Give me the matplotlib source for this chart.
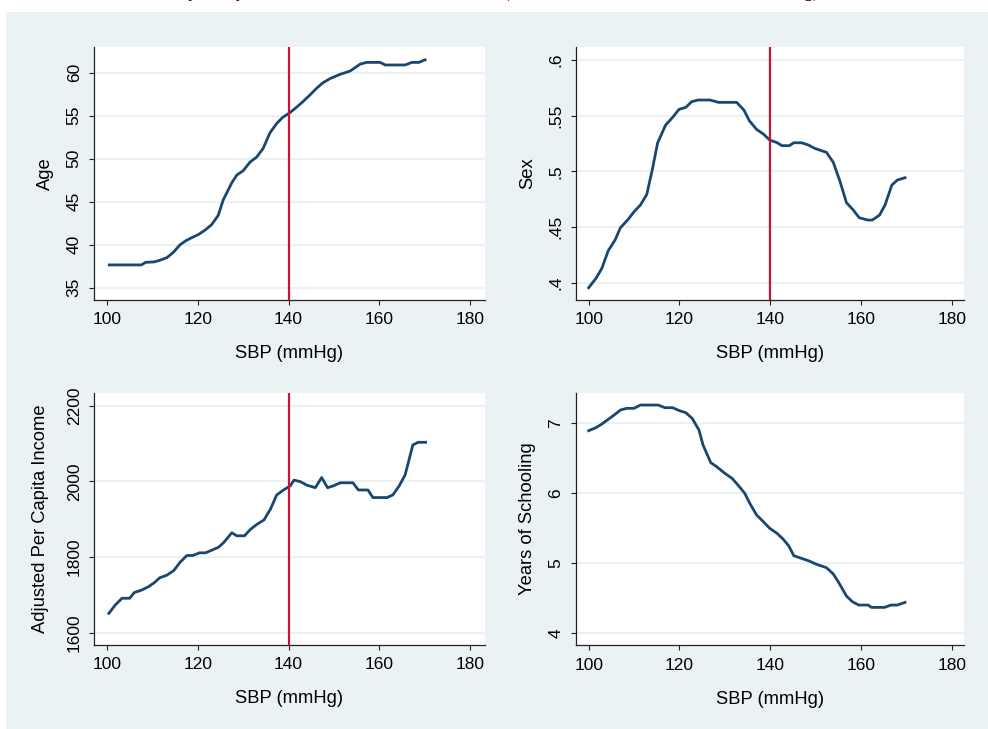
import matplotlib
matplotlib.use("Agg")
import matplotlib.pyplot as plt
from matplotlib.patches import Rectangle

# lowess-smoothed covariates against systolic blood pressure
sbp_age = [100.5, 107.6, 108.5, 110.4, 111.7, 113.2, 114.6, 116.1, 117.5, 118.6, 120.2, 121.6,
           123.0, 124.5, 125.6, 127.5, 128.6, 130.0, 131.5, 133.0, 134.4, 135.9, 137.4, 138.7,
           140.3, 141.8, 143.1, 144.7, 146.2, 147.5, 149.1, 151.3, 153.6, 155.8, 157.2, 160.2,
           161.3, 165.7, 167.2, 168.7, 170.1]
age = [37.65, 37.65, 37.95, 38.0, 38.2, 38.5, 39.1, 40.0, 40.5, 40.8, 41.2, 41.7,
       42.3, 43.4, 45.2, 47.2, 48.1, 48.6, 49.6, 50.2, 51.2, 53.0, 54.1, 54.8,
       55.35, 56.0, 56.6, 57.4, 58.2, 58.8, 59.3, 59.8, 60.2, 61.0, 61.2, 61.2,
       60.9, 60.9, 61.2, 61.2, 61.5]

sbp_sex = [100.0, 101.6, 102.9, 104.3, 105.8, 107.0, 108.7, 110.0, 111.4, 112.8, 114.0, 115.2,
           116.95, 118.5, 119.9, 121.4, 122.7, 124.1, 126.7, 128.6, 132.6, 134.2, 135.4, 137.0,
           138.5, 139.9, 141.4, 142.6, 144.2, 145.2, 146.9, 148.4, 149.8, 152.4, 153.9, 155.4,
           156.8, 158.3, 159.6, 161.5, 162.5, 164.1, 165.3, 166.8, 168.0, 169.7]
sex = [0.3955, 0.4039, 0.4129, 0.4287, 0.4383, 0.4494, 0.4569, 0.4638, 0.4698, 0.4793, 0.5012, 0.5257,
       0.5416, 0.5485, 0.5557, 0.5575, 0.5626, 0.5641, 0.5641, 0.5620, 0.5620, 0.5551, 0.5455, 0.5377,
       0.5335, 0.5281, 0.5260, 0.5231, 0.5231, 0.5257, 0.5257, 0.5237, 0.5207, 0.5171, 0.5081, 0.4907,
       0.4719, 0.4653, 0.4584, 0.4563, 0.4563, 0.4608, 0.4698, 0.4877, 0.4922, 0.4943]

sbp_inc = [100.4, 101.8, 103.3, 105.0, 106.0, 107.7, 109.2, 110.4, 111.6, 113.2, 114.7, 116.1,
           117.6, 118.9, 120.4, 121.7, 123.1, 124.6, 125.7, 127.5, 128.6, 130.3, 131.6, 133.0,
           134.6, 136.0, 137.4, 138.9, 140.4, 141.2, 142.6, 144.0, 145.9, 147.3, 148.6, 149.9,
           151.4, 154.2, 155.4, 157.5, 158.6, 161.7, 163.0, 164.4, 165.7, 167.4, 168.6, 170.2]
income = [1651, 1673, 1691, 1691, 1706, 1713, 1722, 1732, 1745, 1752, 1764, 1786,
          1804, 1804, 1811, 1811, 1818, 1826, 1838, 1864, 1856, 1856, 1873, 1886,
          1898, 1926, 1964, 1977, 1988, 2003, 1999, 1990, 1983, 2010, 1983, 1988,
          1996, 1996, 1977, 1977, 1957, 1957, 1964, 1988, 2017, 2096, 2103, 2103]

sbp_sch = [100.0, 101.6, 102.9, 104.3, 105.8, 107.0, 108.4, 110.0, 111.4, 115.3, 116.8, 118.5,
           120.0, 121.4, 122.8, 124.3, 125.2, 126.9, 128.2, 130.0, 131.6, 132.9, 134.4, 135.5,
           137.0, 138.5, 139.9, 141.5, 142.9, 144.1, 145.2, 146.9, 148.4, 150.2, 152.4, 153.9,
           155.2, 156.8, 158.1, 159.5, 161.6, 162.3, 165.2, 166.6, 168.0, 169.7]
school = [6.886, 6.929, 6.981, 7.048, 7.119, 7.181, 7.205, 7.205, 7.252, 7.252, 7.214, 7.214,
          7.172, 7.143, 7.062, 6.896, 6.682, 6.430, 6.373, 6.278, 6.206, 6.111, 5.992, 5.850,
          5.683, 5.588, 5.493, 5.422, 5.336, 5.241, 5.103, 5.065, 5.032, 4.980, 4.932, 4.842,
          4.709, 4.528, 4.447, 4.399, 4.399, 4.366, 4.366, 4.399, 4.399, 4.437]

xticks = [100, 120, 140, 160, 180]
cutoff = 140

NAVY = "#1A476F"
RED = "#CC1236"
BG = "#EAF2F3"

plt.rcParams["font.family"] = ["Liberation Sans", "DejaVu Sans"]

W, H = 988, 729
fig = plt.figure(figsize=(W / 100, H / 100), dpi=100)
fig.patch.set_facecolor("white")
fig.patches.append(Rectangle((6 / W, 0), 1, (H - 12) / H, transform=fig.transFigure,
                             facecolor=BG, edgecolor="none", zorder=-10))

# caption above the graph; only its descenders fall inside the canvas
fig.text(73 / W, 1 + 3.5 / H,
         "Covariates Analyzed by SBP Relative to the 140 Threshold (Lowess Smoothed Mean Values in mmHg)",
         family=["Liberation Serif", "DejaVu Serif"], fontsize=13, ha="left", va="baseline")


def panel(rect, x, y, ylabel, ylim, yticks, yticklabels, vline):
    ax = fig.add_axes([rect[0] / W, 1 - rect[3] / H, (rect[2] - rect[0]) / W, (rect[3] - rect[1]) / H])
    ax.set_facecolor("white")
    for ty in yticks:
        ax.axhline(ty, color=BG, lw=1.6, zorder=1)
    ax.plot(x, y, color=NAVY, lw=2.0, zorder=3)
    if vline:
        ax.axvline(cutoff, color=RED, lw=1.6, zorder=4)
    ax.set_ylim(*ylim)
    ax.set_yticks(yticks)
    ax.set_yticklabels(yticklabels, rotation=90, va="center")
    ax.set_xticks(xticks)
    ax.set_xticklabels([str(t) for t in xticks])
    ax.set_xlabel("SBP (mmHg)", fontsize=13.2, labelpad=13)
    ax.set_ylabel(ylabel, fontsize=13.2, labelpad=9)
    for s in ["top", "right"]:
        ax.spines[s].set_visible(False)
    for s in ["left", "bottom"]:
        ax.spines[s].set_color("#222222")
        ax.spines[s].set_linewidth(0.9)
    ax.tick_params(axis="both", direction="out", length=3.8, width=0.8, color="#222222",
                   labelsize=12.5, pad=5)
    return ax


ax1 = panel((94, 47, 485, 300), sbp_age, age, "Age", (33.57, 62.99),
            [35, 40, 45, 50, 55, 60], ["35", "40", "45", "50", "55", "60"], True)
ax1.set_xlim(97.13, 183.3)

ax2 = panel((575.7, 47, 964, 300), sbp_sex, sex, "Sex", (0.3845, 0.6117),
            [0.4, 0.45, 0.5, 0.55, 0.6], [".4", ".45", ".5", ".55", ".6"], True)
ax2.set_xlim(97.14, 182.7)

ax3 = panel((94, 392.7, 485, 645), sbp_inc, income, "Adjusted Per Capita Income", (1567.5, 2234),
            [1600, 1800, 2000, 2200], ["1600", "1800", "2000", "2200"], True)
ax3.set_xlim(97.13, 183.3)
ax3.yaxis.labelpad = 13

ax4 = panel((575.7, 392.7, 964, 645.3), sbp_sch, school, "Years of Schooling", (3.825, 7.428),
            [4, 5, 6, 7], ["4", "5", "6", "7"], False)
ax4.set_xlim(97.14, 182.7)

fig.savefig("out.png", dpi=100)
